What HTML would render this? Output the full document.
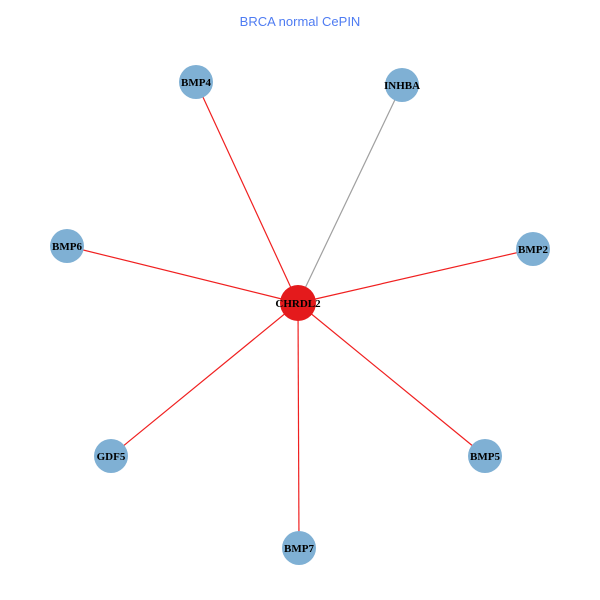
<!DOCTYPE html>
<html><head><style>body{margin:0;background:#fff}svg{display:block}</style></head>
<body>
<svg width="600" height="600" xmlns="http://www.w3.org/2000/svg">
<rect width="600" height="600" fill="#fff"/>
<text x="300" y="26" text-anchor="middle" font-family="Liberation Sans, sans-serif" font-size="13" fill="#4f7cf2">BRCA normal CePIN</text>
<g stroke-width="1.2">
<line x1="298" y1="303" x2="196" y2="82" stroke="#f02020"/>
<line x1="298" y1="303" x2="402" y2="85" stroke="#a0a0a0"/>
<line x1="298" y1="303" x2="67" y2="246" stroke="#f02020"/>
<line x1="298" y1="303" x2="533" y2="249" stroke="#f02020"/>
<line x1="298" y1="303" x2="111" y2="456" stroke="#f02020"/>
<line x1="298" y1="303" x2="485" y2="456" stroke="#f02020"/>
<line x1="298" y1="303" x2="299" y2="548" stroke="#f02020"/>
</g>
<g fill="#7fb0d4">
<circle cx="196" cy="82" r="17"/>
<circle cx="402" cy="85" r="17"/>
<circle cx="67" cy="246" r="17"/>
<circle cx="533" cy="249" r="17"/>
<circle cx="111" cy="456" r="17"/>
<circle cx="485" cy="456" r="17"/>
<circle cx="299" cy="548" r="17"/>
</g>
<circle cx="298" cy="303" r="18" fill="#e41a1c"/>
<g font-family="Liberation Serif, serif" font-size="11" font-weight="bold" text-anchor="middle" fill="#000">
<text x="196" y="86">BMP4</text>
<text x="402" y="89">INHBA</text>
<text x="67" y="250">BMP6</text>
<text x="533" y="253">BMP2</text>
<text x="111" y="460">GDF5</text>
<text x="485" y="460">BMP5</text>
<text x="299" y="552">BMP7</text>
<text x="298" y="307">CHRDL2</text>
</g>
</svg>
</body></html>
